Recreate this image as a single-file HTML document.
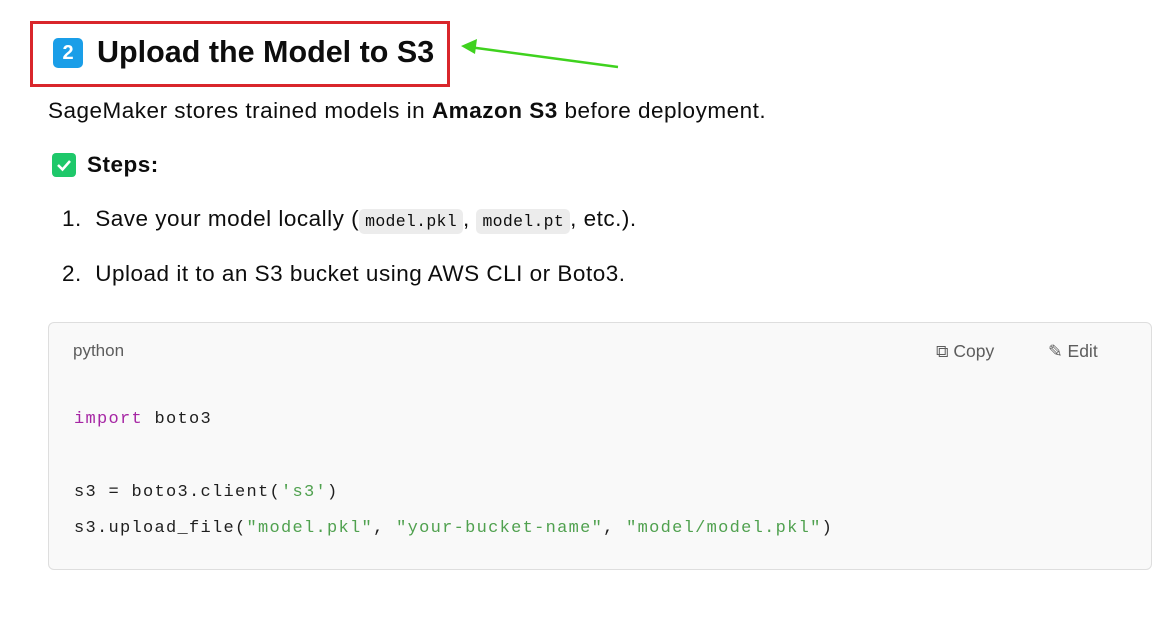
<!DOCTYPE html>
<html><head><meta charset="utf-8"><style>
body{margin:0;width:1173px;height:627px;background:#fff;position:relative;overflow:hidden;font-family:"Liberation Sans",sans-serif;color:#0d0d0d}
.a{position:absolute;white-space:nowrap}
.t{font-size:22.5px;letter-spacing:0.5px}
.code{font-family:"Liberation Mono",monospace;font-size:17px;letter-spacing:1.3px;color:#1f1f1f}
.ic{font-family:"Liberation Mono",monospace;font-size:16.5px;letter-spacing:0.3px;background:#ececec;border-radius:5px;padding:3px 6px}
</style></head><body>
<div class="a" style="left:30px;top:21px;width:414px;height:60px;border:3px solid #d9262b"></div>
<div class="a" style="left:53px;top:38px;width:30px;height:30px;background:#1a9ee8;border-radius:5px;color:#fff;font-weight:bold;font-size:20px;text-align:center;line-height:30px">2</div>
<div class="a" style="left:97px;top:35px;font-size:30.5px;font-weight:bold;letter-spacing:0px">Upload the Model to S3</div>
<svg class="a" style="left:455px;top:35px" width="170" height="40"><line x1="163" y1="32" x2="14" y2="12" stroke="#3fd21e" stroke-width="2.5"/><polygon points="6,11 22,4 20,19" fill="#3fd21e"/></svg>
<div class="a t" style="left:48px;top:98px">SageMaker stores trained models in <b>Amazon S3</b> before deployment.</div>
<div class="a" style="left:52px;top:153px;width:24px;height:24px;background:#1ec86a;border-radius:4px"><svg width="24" height="24"><polyline points="6,12 10.5,16.5 18,8" fill="none" stroke="#fff" stroke-width="2.5"/></svg></div>
<div class="a t" style="left:87px;top:152px;font-weight:bold">Steps:</div>
<div class="a t" style="left:62px;top:206px">1.&nbsp;&nbsp;Save your model locally (<span class="ic">model.pkl</span>, <span class="ic">model.pt</span>, etc.).</div>
<div class="a t" style="left:62px;top:261px">2.&nbsp;&nbsp;Upload it to an S3 bucket using AWS CLI or Boto3.</div>
<div class="a" style="left:48px;top:322px;width:1102px;height:246px;background:#f9f9f9;border:1px solid #dedede;border-radius:6px"></div>
<div class="a" style="left:73px;top:341px;font-size:17px;color:#5d5d5d">python</div>
<div class="a" style="left:936px;top:341px;font-size:17.5px;color:#5d5d5d">⧉ Copy</div>
<div class="a" style="left:1048px;top:341px;font-size:17.5px;color:#5d5d5d">✎ Edit</div>
<div class="a code" style="left:74px;top:410px"><span style="color:#a626a4">import</span> boto3</div>
<div class="a code" style="left:74px;top:483px">s3 = boto3.client(<span style="color:#50a14f">'s3'</span>)</div>
<div class="a code" style="left:74px;top:519px">s3.upload_file(<span style="color:#50a14f">"model.pkl"</span>, <span style="color:#50a14f">"your-bucket-name"</span>, <span style="color:#50a14f">"model/model.pkl"</span>)</div>
</body></html>
